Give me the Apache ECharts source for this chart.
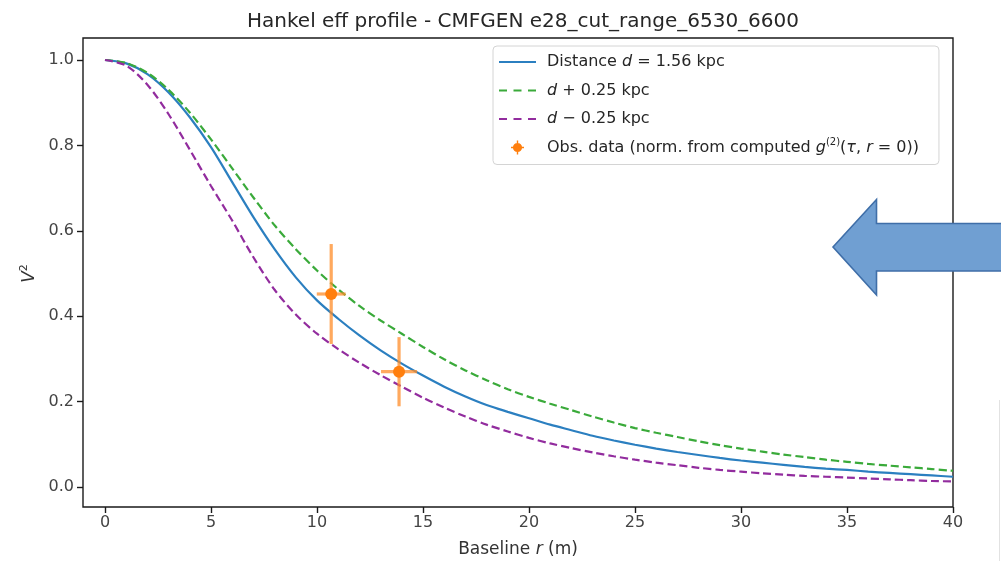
<!DOCTYPE html>
<html>
<head>
<meta charset="utf-8">
<script src="https://cdn.jsdelivr.net/npm/echarts@6/dist/echarts.min.js"></script>
<style>
html,body{margin:0;padding:0;background:#fff;}
#chart{width:1001px;height:561px;}
</style>
</head>
<body>
<div id="chart"></div>
<script>
// ---- data ----
const baseline = [0,1,2,3,4,5,6,7,8,9,10,11,12,13,14,15,16,17,18,19,20,21,22,23,24,25,26,27,28,29,30,31,32,33,34,35,36,37,38,39,40];
const v2Nominal = [1.000,0.992,0.967,0.924,0.866,0.796,0.714,0.632,0.557,0.491,0.437,0.394,0.355,0.320,0.289,0.261,0.235,0.212,0.192,0.176,0.161,0.146,0.133,0.120,0.109,0.099,0.090,0.082,0.075,0.068,0.062,0.057,0.052,0.047,0.043,0.040,0.036,0.033,0.030,0.027,0.024];
const v2Plus = [1.000,0.993,0.970,0.930,0.877,0.814,0.746,0.678,0.613,0.557,0.507,0.463,0.424,0.390,0.359,0.328,0.299,0.273,0.250,0.229,0.211,0.195,0.180,0.165,0.151,0.138,0.127,0.117,0.107,0.098,0.090,0.083,0.076,0.070,0.064,0.059,0.054,0.050,0.046,0.042,0.038];
const v2Minus = [1.000,0.987,0.942,0.873,0.790,0.705,0.624,0.538,0.462,0.404,0.359,0.323,0.291,0.262,0.235,0.209,0.186,0.165,0.146,0.130,0.115,0.102,0.091,0.081,0.072,0.064,0.057,0.051,0.045,0.040,0.036,0.032,0.029,0.026,0.024,0.022,0.020,0.018,0.016,0.014,0.013];
const obsR = [10.67, 13.87];
const obsV2 = [0.452, 0.270];
const obsRErr = [0.68, 0.85];
const obsV2Err = [0.117, 0.081];
const xTickRange = [0, 40, 5];     // min, max, step of the x tick labels
const yTickRange = [0, 1, 0.2];    // min, max, step of the y tick labels

const legendLabels = {
  nominal: 'Distance {i|d} = 1.56 kpc',
  plus: '{i|d} + 0.25 kpc',
  minus: '{i|d} \u2212 0.25 kpc',
  obs: 'Obs. data (norm. from computed {i|g}{sup|(2)}({i|\u03c4}, {i|r} = 0))'
};

const FONT = 'DejaVu Sans';
const pairs = (xs, ys) => xs.map((x, i) => [x, ys[i]]);
const obsData = obsR.map((r, i) => [r, obsV2[i], obsRErr[i], obsV2Err[i]]);

const ICON_SOLID = 'path://M0 0h37v2.2h-37z';
const ICON_DASH = 'path://M0 0h8v2.2h-8z M14.5 0h8v2.2h-8z M29 0h8v2.2h-8z';
const ICON_OBS = 'path://M6.3 0h1.4v14h-1.4z M0.5 6.3h13v1.4h-13z M11.6 7a4.6 4.6 0 1 1 -9.2 0a4.6 4.6 0 1 1 9.2 0z';

const chart = echarts.init(document.getElementById('chart'), null, {renderer: 'canvas'});
const tickStyle = {color: '#1a1a1a', width: 1.4};

const option = {
  backgroundColor: '#ffffff',
  animation: false,
  title: {
    text: 'Hankel eff profile - CMFGEN e28_cut_range_6530_6600',
    left: 518, top: 7, textAlign: 'center',
    textStyle: {fontFamily: FONT, fontSize: 20, fontWeight: 'normal', color: '#262626'}
  },
  // data grid spans exactly the tick range; axes are offset outward onto the frame
  grid: {left: 105, right: 48, top: 60, bottom: 74, outerBoundsMode: 'none', containLabel: false, show: false},
  xAxis: {
    type: 'value', min: xTickRange[0], max: xTickRange[1], interval: xTickRange[2], offset: 20,
    name: 'Baseline {i|r} (m)', nameLocation: 'middle', nameGap: 34,
    nameTextStyle: {fontFamily: FONT, fontSize: 17, color: '#333', padding: [0, 22, 0, 0],
      rich: {i: {fontFamily: FONT, fontSize: 17, fontStyle: 'italic', color: '#333'}}},
    axisLine: {show: false, onZero: false},
    splitLine: {show: false},
    axisTick: {show: true, inside: false, length: 6, lineStyle: tickStyle},
    axisLabel: {show: true, margin: 8, fontFamily: FONT, fontSize: 16, color: '#444', showMinLabel: true, showMaxLabel: true, formatter: v => String(v)}
  },
  yAxis: {
    type: 'value', min: yTickRange[0], max: yTickRange[1], interval: yTickRange[2], offset: 22,
    name: '{i|V}{sup|2}', nameLocation: 'middle', nameRotate: 90, nameGap: 42,
    nameTextStyle: {fontFamily: FONT, fontSize: 17, color: '#333', rich: {
      i: {fontFamily: FONT, fontSize: 17, fontStyle: 'italic', color: '#333', lineHeight: 22},
      sup: {fontFamily: FONT, fontSize: 11, color: '#333', verticalAlign: 'top', lineHeight: 22}
    }},
    axisLine: {show: false, onZero: false},
    splitLine: {show: false},
    axisTick: {show: true, inside: false, length: 6, lineStyle: tickStyle},
    axisLabel: {show: true, margin: 9, fontFamily: FONT, fontSize: 16, color: '#444', showMinLabel: true, showMaxLabel: true, formatter: v => Number(v).toFixed(1)}
  },
  legend: {
    orient: 'vertical', left: 493, top: 46,
    padding: [6, 20, 7, 6],
    itemWidth: 37, itemHeight: 14, itemGap: 8.5,
    backgroundColor: 'rgba(255,255,255,0.85)', borderColor: '#d4d4d4', borderWidth: 1, borderRadius: 4,
    data: [
      {name: 'nominal', icon: ICON_SOLID},
      {name: 'plus', icon: ICON_DASH},
      {name: 'minus', icon: ICON_DASH},
      {name: 'obs', icon: ICON_OBS}
    ],
    formatter: name => legendLabels[name],
    textStyle: {fontFamily: FONT, fontSize: 16, color: '#262626', lineHeight: 20, padding: [0, 0, 0, 6], rich: {
      i: {fontFamily: FONT, fontSize: 16, fontStyle: 'italic', color: '#262626', lineHeight: 20},
      sup: {fontFamily: FONT, fontSize: 10, color: '#262626', verticalAlign: 'top', lineHeight: 20}
    }}
  },
  series: [
    {name: 'nominal', type: 'line', data: pairs(baseline, v2Nominal), showSymbol: false, symbol: 'none', smooth: 0.3, clip: false,
      lineStyle: {color: '#2b7fc0', width: 2.2}, itemStyle: {color: '#2b7fc0'}, z: 3},
    {name: 'plus', type: 'line', data: pairs(baseline, v2Plus), showSymbol: false, symbol: 'none', smooth: 0.3, clip: false,
      lineStyle: {color: '#3aaa3a', width: 2.2, type: [8, 4]}, itemStyle: {color: '#3aaa3a'}, z: 3},
    {name: 'minus', type: 'line', data: pairs(baseline, v2Minus), showSymbol: false, symbol: 'none', smooth: 0.3, clip: false,
      lineStyle: {color: '#922c9e', width: 2.2, type: [8, 4]}, itemStyle: {color: '#922c9e'}, z: 3},
    {name: 'obs', type: 'custom', data: obsData, z: 5, clip: false,
      itemStyle: {color: '#ff7f0e'},
      renderItem: function (params, api) {
        const x = api.value(0), y = api.value(1), dx = api.value(2), dy = api.value(3);
        const c = api.coord([x, y]);
        const l = api.coord([x - dx, y]), r = api.coord([x + dx, y]);
        const t = api.coord([x, y + dy]), b = api.coord([x, y - dy]);
        const barStyle = {stroke: 'rgba(255,140,40,0.75)', lineWidth: 3.2};
        return {
          type: 'group',
          children: [
            {type: 'line', shape: {x1: l[0], y1: l[1], x2: r[0], y2: r[1]}, style: barStyle},
            {type: 'line', shape: {x1: t[0], y1: t[1], x2: b[0], y2: b[1]}, style: barStyle},
            {type: 'circle', shape: {cx: c[0], cy: c[1], r: 6}, style: {fill: '#ff7f0e'}}
          ]
        };
      }
    }
  ],
  graphic: [
    // plot frame (matplotlib axes box)
    {type: 'rect', z: 1, silent: true, shape: {x: 83, y: 38, width: 870, height: 469},
      style: {fill: 'none', stroke: '#1a1a1a', lineWidth: 1.4}},
    // annotation arrow pasted on the figure
    {type: 'polygon', z: 100, shape: {points: [[833, 247], [876.5, 199.5], [876.5, 223.5], [1003, 223.5], [1003, 271], [876.5, 271], [876.5, 295]]},
      style: {fill: '#709fd2', stroke: '#3f6ea8', lineWidth: 1.6}},
    {type: 'line', z: 100, shape: {x1: 999.5, y1: 400, x2: 999.5, y2: 561}, style: {stroke: '#e2e2e2', lineWidth: 1}}
  ]
};
chart.setOption(option);
</script>
</body>
</html>
